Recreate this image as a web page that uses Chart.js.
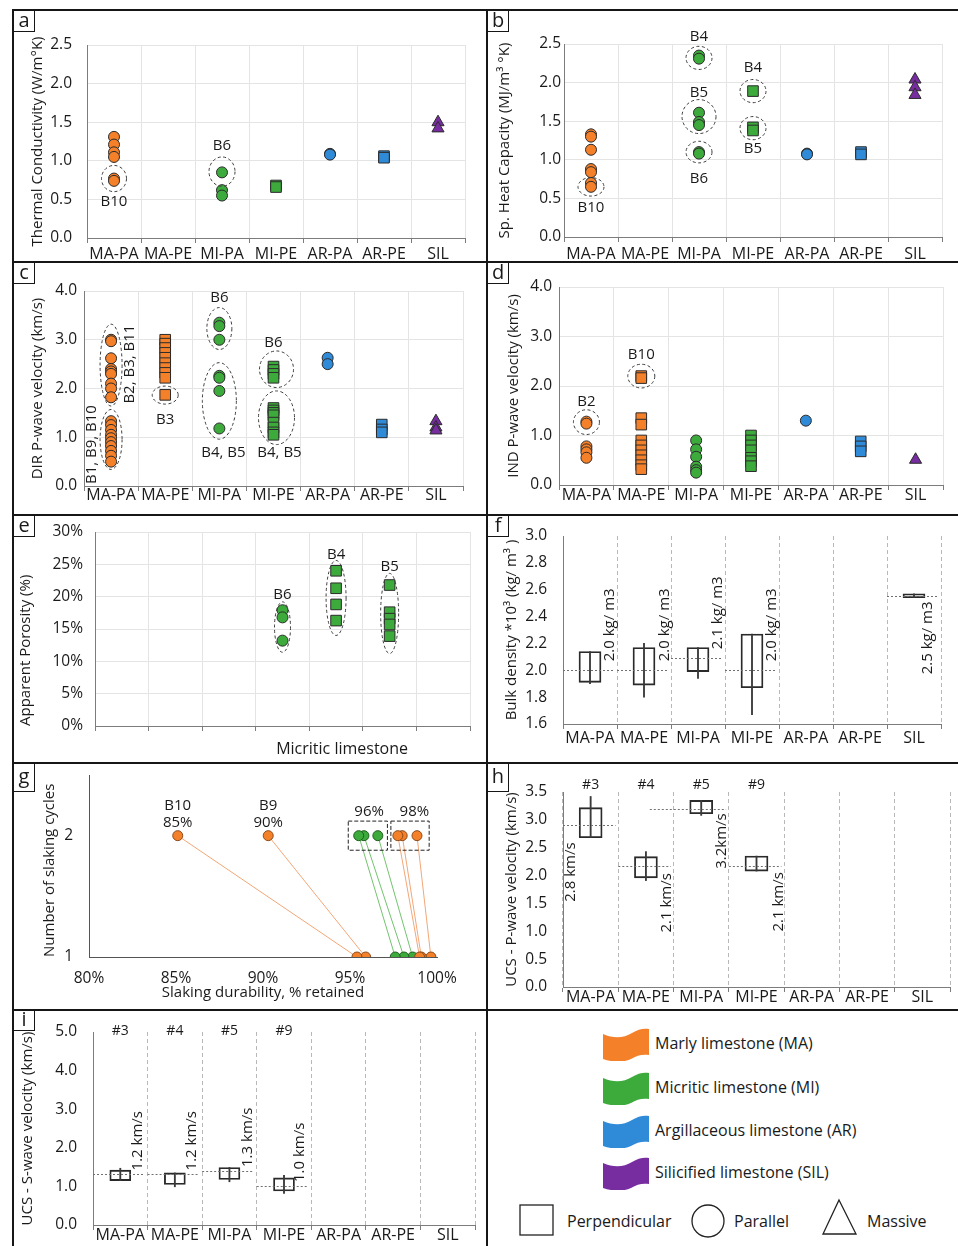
<!DOCTYPE html>
<html lang="en">
<head>
<meta charset="utf-8">
<title>Limestone properties</title>
<script src="https://cdn.jsdelivr.net/npm/chart.js@4.4.1/dist/chart.umd.min.js"></script>
<style>
  html, body { margin: 0; padding: 0; background: #fff; }
  #fig { position: relative; width: 958px; height: 1246px; overflow: hidden; background: #fff;
         font-family: 'Open Sans', sans-serif; color: #1a1a1a; }
  #fig canvas { position: absolute; }
  .rule { position: absolute; background: #161616; z-index: 5; }
  .tag { position: absolute; z-index: 6; box-sizing: border-box; width: 22px; height: 22px;
         border: 1.5px solid #161616; background: #fff; font-size: 20px; line-height: 16px; text-align: center; }
  .leg { position: absolute; font-size: 16px; line-height: 20px; white-space: nowrap; }
  .leg svg { position: absolute; }
</style>
</head>
<body>
<div id="fig"></div>
<script>
// categories + colours
const CATS = ['MA-PA', 'MA-PE', 'MI-PA', 'MI-PE', 'AR-PA', 'AR-PE', 'SIL'];
const MA = '#F5802A', MI = '#3DAA3C', AR = '#2F8AD8', SIL = '#772D9F';

// a - thermal conductivity (W/m°K)
const aMaPa = [1.31, 1.21, 1.11, 1.05, 0.77, 0.74];
const aMiPa = [0.85, 0.62, 0.55];
const aMiPe = [0.68, 0.66];
const aArPa = [1.09, 1.08];
const aArPe = [1.06, 1.04];
const aSil  = [1.50, 1.42];

// b - specific heat capacity (MJ/m3 °K)
const bMaPa = [1.33, 1.30, 1.13, 0.88, 0.84, 0.70, 0.65];
const bMiPa = [2.35, 2.31, 1.61, 1.49, 1.45, 1.10, 1.08];
const bMiPe = [1.89, 1.42, 1.38];
const bArPa = [1.08, 1.07];
const bArPe = [1.10, 1.07];
const bSil  = [2.04, 1.94, 1.84];

// c - DIR P-wave velocity (km/s)
const cMaPa = [3.00, 2.97, 2.62, 2.40, 2.35, 2.30, 2.10, 2.00, 1.82,
               1.33, 1.25, 1.15, 1.05, 0.98, 0.90, 0.82, 0.72, 0.62, 0.50];
const cMaPe = [3.00, 2.92, 2.83, 2.73, 2.63, 2.52, 2.42, 2.32, 2.22, 1.87];
const cMiPa = [3.35, 3.28, 3.00, 2.26, 2.22, 1.95, 1.18];
const cMiPe = [2.45, 2.38, 2.30, 2.22, 1.60, 1.55, 1.50, 1.45, 1.30, 1.20, 1.10, 1.05];
const cArPa = [2.63, 2.50];
const cArPe = [1.26, 1.16, 1.10];
const cSil  = [1.33, 1.20, 1.14];

// d - IND P-wave velocity (km/s)
const dMaPa = [1.28, 1.24, 0.78, 0.72, 0.66, 0.55];
const dMaPe = [2.20, 2.16, 1.35, 1.22, 0.90, 0.80, 0.70, 0.60, 0.50, 0.40, 0.32];
const dMiPa = [0.90, 0.72, 0.57, 0.37, 0.30, 0.25];
const dMiPe = [1.00, 0.90, 0.80, 0.70, 0.55, 0.48, 0.38];
const dArPa = [1.30];
const dArPe = [0.88, 0.78, 0.68];
const dSil  = [0.51];

// e - apparent porosity (%), micritic limestone blocks
const eSlots = ['e1', 'e2', 'e3', 'B6', 'B4', 'B5', 'e7'];
const eB6 = [17.9, 16.8, 13.2];
const eB4 = [24.0, 21.3, 18.8, 16.3];
const eB5 = [21.8, 17.6, 16.6, 15.7, 13.9];

// f - bulk density *10^3 (kg/m3)
const fBoxLow  = [1.91, 1.89, 1.99, 1.87, null, null, 2.54];
const fBoxHigh = [2.14, 2.17, 2.17, 2.27, null, null, 2.57];
const fMin     = [1.90, 1.80, 1.94, 1.67, null, null, 2.54];
const fMax     = [2.14, 2.20, 2.17, 2.27, null, null, 2.57];
const fMean    = [2.00, 2.00, 2.09, 2.00, null, null, 2.55];
const fMeanText = ['2.0 kg/ m3', '2.0 kg/ m3', '2.1 kg/ m3', '2.0 kg/ m3', null, null, '2.5 kg/ m3'];

// g - slaking durability (% retained) after cycle 1 and cycle 2
const gMaCycle1 = [95.4, 95.9, 99.0, 99.1, 99.65];
const gMaCycle2 = [85.1, 90.3, 97.75, 98.0, 98.85];
const gMiCycle1 = [97.6, 98.1, 98.6];
const gMiCycle2 = [95.5, 95.8, 96.6];

// h - UCS specimens, P-wave velocity (km/s)
const hSamples = ['#3', '#4', '#5', '#9'];
const hBoxLow  = [2.68, 1.96, 3.11, 2.08];
const hBoxHigh = [3.22, 2.34, 3.35, 2.35];
const hMin     = [2.68, 1.91, 3.08, 2.08];
const hMax     = [3.42, 2.43, 3.35, 2.35];
const hMean    = [2.90, 2.17, 3.19, 2.17];
const hMeanText = ['2.8 km/s', '2.1 km/s', '3.2km/s', '2.1 km/s'];

// i - UCS specimens, S-wave velocity (km/s)
const iSamples = ['#3', '#4', '#5', '#9'];
const iBoxLow  = [1.15, 1.05, 1.18, 0.88];
const iBoxHigh = [1.42, 1.35, 1.49, 1.22];
const iMin     = [1.15, 0.99, 1.12, 0.82];
const iMax     = [1.47, 1.35, 1.49, 1.29];
const iMean    = [1.31, 1.31, 1.40, 1.01];
const iMeanText = ['1.2 km/s', '1.2 km/s', '1.3 km/s', '1.0 km/s'];

// ---------------------------------------------------------------------------
const GRID = '#e4e4e4', AXIS = '#7c7c7c', DASH = '#b8b8b8', INK = '#1a1a1a';
Chart.defaults.font.family = "'Open Sans', sans-serif";
Chart.defaults.color = INK;

const fig = document.getElementById('fig');

// canvas box (x,y,w,h) and plot area (l,r,t,b) per panel, page pixels
const LAYOUT = {
  a: { x: 14,  y: 11,   w: 472, h: 250, l: 87,  r: 465, t: 45,   b: 238 },
  b: { x: 489, y: 11,   w: 469, h: 250, l: 564, r: 942, t: 44,   b: 237 },
  c: { x: 14,  y: 264,  w: 472, h: 249, l: 84,  r: 463, t: 291,  b: 486 },
  d: { x: 489, y: 264,  w: 469, h: 249, l: 559, r: 943, t: 287,  b: 485 },
  e: { x: 14,  y: 516,  w: 472, h: 245, l: 95,  r: 470, t: 532,  b: 726 },
  f: { x: 489, y: 516,  w: 469, h: 245, l: 563, r: 941, t: 536,  b: 724 },
  g: { x: 14,  y: 764,  w: 472, h: 244, l: 89,  r: 437, t: 775,  b: 957 },
  h: { x: 489, y: 764,  w: 469, h: 244, l: 563, r: 950, t: 792,  b: 987 },
  i: { x: 14,  y: 1011, w: 472, h: 235, l: 93,  r: 475, t: 1032, b: 1225 }
};

function notesPlugin(n) {
  return {
    id: 'notes',
    afterDatasetsDraw(chart) {
      const { ctx } = chart;
      const xs = chart.scales.x, ys = chart.scales.y;
      const X = c => xs.getPixelForValue(typeof c === 'string' ? xs.getLabels().indexOf(c) : c);
      ctx.save();
      ctx.lineWidth = 1;
      ctx.strokeStyle = '#3c3c3c';
      ctx.setLineDash([3, 2.5]);
      (n.ellipses || []).forEach(e => {
        const a = ys.getPixelForValue(e.y0), b = ys.getPixelForValue(e.y1);
        ctx.beginPath();
        ctx.ellipse(X(e.cat) + (e.dx || 0), (a + b) / 2, e.rx, Math.abs(a - b) / 2, 0, 0, 2 * Math.PI);
        ctx.stroke();
      });
      ctx.strokeStyle = '#222';
      ctx.setLineDash([4, 2]);
      (n.rects || []).forEach(r => {
        const x0 = xs.getPixelForValue(r.x0), x1 = xs.getPixelForValue(r.x1);
        const y0 = ys.getPixelForValue(r.y0), y1 = ys.getPixelForValue(r.y1);
        ctx.strokeRect(x0, y1, x1 - x0, y0 - y1);
      });
      ctx.strokeStyle = '#707070';
      ctx.setLineDash([2, 2]);
      (n.means || []).forEach(m => {
        const y = Math.round(ys.getPixelForValue(m.y)) + 0.5;
        ctx.beginPath();
        ctx.moveTo(X(m.cat + m.span[0]), y);
        ctx.lineTo(X(m.cat + m.span[1]), y);
        ctx.stroke();
      });
      ctx.setLineDash([]);
      ctx.fillStyle = INK;
      ctx.textBaseline = 'middle';
      (n.texts || []).forEach(t => {
        ctx.font = (t.size || 15) + "px 'Open Sans', sans-serif";
        const x = X(t.cat) + (t.dx || 0);
        const y = ys.getPixelForValue(t.y);
        ctx.save();
        if (t.rot) {
          const gap = t.gap || 0;
          ctx.translate(x, t.side === 'down' ? y + gap : t.side === 'up' ? y - gap : y);
          ctx.rotate(-Math.PI / 2);
          ctx.textAlign = t.side === 'down' ? 'right' : t.side === 'up' ? 'left' : 'center';
          ctx.fillText(t.t, 0, 0);
        } else {
          ctx.textAlign = 'center';
          ctx.fillText(t.t, x, y);
        }
        ctx.restore();
      });
      ctx.restore();
    }
  };
}

function makeChart(key, config, notes) {
  const L = LAYOUT[key];
  const cv = document.createElement('canvas');
  cv.width = L.w; cv.height = L.h;
  cv.style.left = L.x + 'px'; cv.style.top = L.y + 'px';
  fig.appendChild(cv);
  const o = config.options;
  Object.assign(o, { responsive: false, maintainAspectRatio: false, animation: false, events: [] });
  o.plugins = { legend: { display: false }, tooltip: { enabled: false } };
  o.layout = { padding: { left: 0, top: L.t - L.y, right: L.x + L.w - L.r, bottom: 0 } };
  // force the plot area to sit where it does in the figure
  o.scales.x.afterFit = s => {
    s.height = L.y + L.h - L.b;
    s.paddingLeft = s.paddingRight = s.paddingTop = s.paddingBottom = 0;
  };
  o.scales.y.afterFit = s => {
    s.width = L.l - L.x;
    s.paddingLeft = s.paddingRight = s.paddingTop = s.paddingBottom = 0;
  };
  config.plugins = [notesPlugin(notes || {})];
  return new Chart(cv, config);
}

function catX(labels, pad, dashed) {
  return {
    type: 'category', labels, offset: true,
    grid: { offset: true, color: dashed ? DASH : GRID, tickColor: AXIS, tickLength: 5 },
    border: dashed ? { color: AXIS, dash: [4, 3] } : { color: AXIS },
    ticks: { font: { size: 16 }, color: INK, padding: pad, autoSkip: false, maxRotation: 0 }
  };
}

function valY(min, max, step, title, titlePad, tickPad, fmt, gridOn) {
  return {
    type: 'linear', min, max,
    grid: { display: gridOn !== false, color: GRID, drawTicks: false },
    border: { color: AXIS },
    ticks: { stepSize: step, padding: tickPad, font: { size: 15.5 }, color: INK,
             callback: fmt || (v => v.toFixed(1)) },
    title: { display: true, text: title, font: { size: 15 }, color: INK, padding: { top: titlePad } }
  };
}

const RADIUS = { circle: 5.5, rect: 7.5, triangle: 7 };
function marks(cat, vals, color, shape) {
  return {
    data: vals.map(v => ({ x: cat, y: v })),
    pointStyle: shape,
    pointRadius: RADIUS[shape],
    backgroundColor: color,
    borderColor: '#2b2b2b',
    borderWidth: 1
  };
}

function boxSets(lo, hi, min, max, width) {
  return [
    { data: min.map((v, k) => v == null ? null : [v, max[k]]),
      backgroundColor: '#3a3a3a', borderWidth: 0, barThickness: 1.2, grouped: false },
    { data: lo.map((v, k) => v == null ? null : [v, hi[k]]),
      backgroundColor: 'rgba(255,255,255,0)', borderColor: '#2a2a2a', borderWidth: 1.2,
      borderSkipped: false, barThickness: width, grouped: false }
  ];
}

function boxNotes(mean, text, place, spans, samples, sampleY) {
  const n = { means: [], texts: [] };
  mean.forEach((m, k) => {
    if (m == null) return;
    n.means.push({ cat: k, y: m, span: spans[k] || [-0.5, 0.45] });
    const p = place[k];
    n.texts.push({ cat: k, y: m, t: text[k], rot: -90, dx: p.dx, gap: p.gap, side: p.side });
  });
  (samples || []).forEach((s, k) => n.texts.push({ cat: k, y: sampleY, t: s, size: 14 }));
  return n;
}

// ---- a
makeChart('a', {
  type: 'scatter',
  data: { datasets: [
    marks('MA-PA', aMaPa, MA, 'circle'), marks('MI-PA', aMiPa, MI, 'circle'),
    marks('MI-PE', aMiPe, MI, 'rect'), marks('AR-PA', aArPa, AR, 'circle'),
    marks('AR-PE', aArPe, AR, 'rect'), marks('SIL', aSil, SIL, 'triangle')] },
  options: { scales: {
    x: catX(CATS, 2),
    y: valY(0, 2.5, 0.5, 'Thermal Conductivity (W/m°K)', 14.5, 15) } }
}, {
  ellipses: [{ cat: 'MA-PA', y0: 0.60, y1: 0.94, rx: 12.5 }, { cat: 'MI-PA', y0: 0.67, y1: 1.05, rx: 13 }],
  texts: [{ cat: 'MA-PA', y: 0.47, t: 'B10' }, { cat: 'MI-PA', y: 1.19, t: 'B6' }]
});

// ---- b
makeChart('b', {
  type: 'scatter',
  data: { datasets: [
    marks('MA-PA', bMaPa, MA, 'circle'), marks('MI-PA', bMiPa, MI, 'circle'),
    marks('MI-PE', bMiPe, MI, 'rect'), marks('AR-PA', bArPa, AR, 'circle'),
    marks('AR-PE', bArPe, AR, 'rect'), marks('SIL', bSil, SIL, 'triangle')] },
  options: { scales: {
    x: catX(CATS, 2.4),
    y: valY(0, 2.5, 0.5, 'Sp. Heat Capacity (MJ/m³ °K)', 7, 3) } }
}, {
  ellipses: [
    { cat: 'MA-PA', y0: 0.53, y1: 0.77, rx: 13 },
    { cat: 'MI-PA', y0: 2.17, y1: 2.47, rx: 13 },
    { cat: 'MI-PA', y0: 1.34, y1: 1.78, rx: 17 },
    { cat: 'MI-PA', y0: 0.96, y1: 1.24, rx: 13 },
    { cat: 'MI-PE', y0: 1.74, y1: 2.04, rx: 13 },
    { cat: 'MI-PE', y0: 1.26, y1: 1.56, rx: 13 }],
  texts: [
    { cat: 'MA-PA', y: 0.38, t: 'B10' }, { cat: 'MI-PA', y: 2.60, t: 'B4' },
    { cat: 'MI-PA', y: 1.87, t: 'B5' }, { cat: 'MI-PA', y: 0.75, t: 'B6' },
    { cat: 'MI-PE', y: 2.19, t: 'B4' }, { cat: 'MI-PE', y: 1.14, t: 'B5' }]
});

// ---- c
makeChart('c', {
  type: 'scatter',
  data: { datasets: [
    marks('MA-PA', cMaPa, MA, 'circle'), marks('MA-PE', cMaPe, MA, 'rect'),
    marks('MI-PA', cMiPa, MI, 'circle'), marks('MI-PE', cMiPe, MI, 'rect'),
    marks('AR-PA', cArPa, AR, 'circle'), marks('AR-PE', cArPe, AR, 'rect'),
    marks('SIL', cSil, SIL, 'triangle')] },
  options: { scales: {
    x: catX(CATS, -5),
    y: valY(0, 4, 1, 'DIR P-wave velocity (km/s)', 15, 7) } }
}, {
  ellipses: [
    { cat: 'MA-PA', y0: 1.64, y1: 3.32, rx: 11 },
    { cat: 'MA-PA', y0: 0.34, y1: 1.57, rx: 11 },
    { cat: 'MA-PE', y0: 1.68, y1: 2.05, rx: 13 },
    { cat: 'MI-PA', y0: 2.80, y1: 3.66, rx: 12.5 },
    { cat: 'MI-PA', y0: 0.96, y1: 2.53, rx: 17 },
    { cat: 'MI-PE', y0: 2.02, y1: 2.77, rx: 17, dx: 3 },
    { cat: 'MI-PE', y0: 0.85, y1: 1.95, rx: 18, dx: 3 }],
  texts: [
    { cat: 'MA-PA', y: 2.5, t: 'B2, B3, B11', rot: -90, dx: 19 },
    { cat: 'MA-PA', y: 0.85, t: 'B1, B9, B10', rot: -90, dx: -19 },
    { cat: 'MA-PE', y: 1.35, t: 'B3' },
    { cat: 'MI-PA', y: 3.86, t: 'B6' },
    { cat: 'MI-PA', y: 0.68, t: 'B4, B5', dx: 4 },
    { cat: 'MI-PE', y: 2.94, t: 'B6' },
    { cat: 'MI-PE', y: 0.68, t: 'B4, B5', dx: 6 }]
});

// ---- d
makeChart('d', {
  type: 'scatter',
  data: { datasets: [
    marks('MA-PA', dMaPa, MA, 'circle'), marks('MA-PE', dMaPe, MA, 'rect'),
    marks('MI-PA', dMiPa, MI, 'circle'), marks('MI-PE', dMiPe, MI, 'rect'),
    marks('AR-PA', dArPa, AR, 'circle'), marks('AR-PE', dArPe, AR, 'rect'),
    marks('SIL', dSil, SIL, 'triangle')] },
  options: { scales: {
    x: catX(CATS, -4.6),
    y: valY(0, 4, 1, 'IND P-wave velocity (km/s)', 16, 7) } }
}, {
  ellipses: [{ cat: 'MA-PA', y0: 1.02, y1: 1.52, rx: 13 }, { cat: 'MA-PE', y0: 1.96, y1: 2.44, rx: 13.5 }],
  texts: [{ cat: 'MA-PA', y: 1.69, t: 'B2' }, { cat: 'MA-PE', y: 2.64, t: 'B10' }]
});

// ---- e
const eX = catX(eSlots, 0);
eX.ticks.display = false;
const eY = valY(0, 30, 5, 'Apparent Porosity (%)', 3, 12, v => v + '%');
eY.title.align = 'start';
makeChart('e', {
  type: 'scatter',
  data: { datasets: [
    marks('B6', eB6, MI, 'circle'), marks('B4', eB4, MI, 'rect'), marks('B5', eB5, MI, 'rect')] },
  options: { scales: { x: eX, y: eY } }
}, {
  ellipses: [
    { cat: 'B6', y0: 11.4, y1: 19.2, rx: 8 },
    { cat: 'B4', y0: 14.0, y1: 25.6, rx: 10 },
    { cat: 'B5', y0: 11.2, y1: 23.6, rx: 9 }],
  texts: [
    { cat: 'B6', y: 20.3, t: 'B6' }, { cat: 'B4', y: 26.5, t: 'B4' }, { cat: 'B5', y: 24.7, t: 'B5' },
    { cat: 'B4', y: -3.7, t: 'Micritic limestone', size: 16, dx: 6 }]
});

// ---- f
const up = (dx, gap) => ({ side: 'up', dx, gap });
const down = (dx, gap) => ({ side: 'down', dx, gap });
makeChart('f', {
  type: 'bar',
  data: { labels: CATS, datasets: boxSets(fBoxLow, fBoxHigh, fMin, fMax, 22) },
  options: { scales: {
    x: catX(CATS, -0.6, true),
    y: valY(1.6, 3.0, 0.2, 'Bulk density *10³ (kg/ m³ )', 14, 16, null, false) } }
}, boxNotes(fMean, fMeanText,
  [up(20, 9), up(21, 9), up(20, 9), up(20, 9), null, null, down(14, 5)], [], null));

// ---- g
const gSets = [];
gMaCycle1.forEach((v, k) => gSets.push({
  data: [{ x: gMaCycle2[k], y: 2 }, { x: v, y: 1 }], showLine: true,
  borderColor: 'rgba(240,150,95,0.85)', borderWidth: 1, pointRadius: 5,
  pointBackgroundColor: MA, pointBorderColor: '#8a4a1a', pointBorderWidth: 1 }));
gMiCycle1.forEach((v, k) => gSets.push({
  data: [{ x: gMiCycle2[k], y: 2 }, { x: v, y: 1 }], showLine: true,
  borderColor: 'rgba(90,185,85,0.85)', borderWidth: 1, pointRadius: 5,
  pointBackgroundColor: MI, pointBorderColor: '#1f5e1e', pointBorderWidth: 1 }));
makeChart('g', {
  type: 'scatter',
  data: { datasets: gSets },
  options: { scales: {
    x: { type: 'linear', min: 80, max: 100,
         grid: { display: false, drawTicks: false }, border: { color: '#555' },
         ticks: { stepSize: 5, padding: 12, font: { size: 15.5 }, color: INK, callback: v => v + '%' },
         title: { display: true, text: 'Slaking durability, % retained', font: { size: 15 }, color: INK,
                  padding: { bottom: 6 } } },
    y: { type: 'linear', min: 1, max: 2.5,
         grid: { display: false, drawTicks: false }, border: { color: '#555' },
         ticks: { stepSize: 1, includeBounds: false, padding: 16, font: { size: 15.5 }, color: INK },
         title: { display: true, text: 'Number of slaking cycles', align: 'start', font: { size: 15 },
                  color: INK, padding: { top: 27 } } } } }
}, {
  texts: [
    { cat: 85.1, y: 2.25, t: 'B10' }, { cat: 85.1, y: 2.11, t: '85%' },
    { cat: 90.3, y: 2.25, t: 'B9' }, { cat: 90.3, y: 2.11, t: '90%' },
    { cat: 96.1, y: 2.2, t: '96%' }, { cat: 98.7, y: 2.2, t: '98%' }],
  rects: [{ x0: 94.9, x1: 97.15, y0: 1.88, y1: 2.12 }, { x0: 97.35, x1: 99.55, y0: 1.88, y1: 2.12 }]
});

// ---- h
makeChart('h', {
  type: 'bar',
  data: { labels: CATS, datasets: boxSets(hBoxLow, hBoxHigh, hMin, hMax, 23) },
  options: { scales: {
    x: catX(CATS, -4.6, true),
    y: valY(0, 3.5, 0.5, 'UCS - P-wave velocity (km/s)', 14, 16, null, false) } }
}, boxNotes(hMean, hMeanText,
  [down(-20, 17), down(21, 7), down(21, 4), down(22, 6)],
  [null, null, [-0.93, 0.45]], hSamples, 3.63));

// ---- i
makeChart('i', {
  type: 'bar',
  data: { labels: CATS, datasets: boxSets(iBoxLow, iBoxHigh, iMin, iMax, 21) },
  options: { scales: {
    x: catX(CATS, -4.6, true),
    y: valY(0, 5, 1, 'UCS - S-wave velocity (km/s)', 5, 16, null, false) } }
}, boxNotes(iMean, iMeanText,
  [up(17, 4), up(17, 4), up(18, 4), up(16, 4)], [], iSamples, 5.03));

// ---- frame, panel tags, legend
[[12, 9, 946, 2], [12, 9, 2, 1237], [486, 9, 2, 1237],
 [12, 261, 946, 2], [12, 514, 946, 2], [12, 762, 946, 2], [12, 1009, 946, 2]].forEach(([x, y, w, h]) => {
  const d = document.createElement('div');
  d.className = 'rule';
  Object.assign(d.style, { left: x + 'px', top: y + 'px', width: w + 'px', height: h + 'px' });
  fig.appendChild(d);
});
[['a', 13, 10, 22], ['b', 487, 10, 22], ['c', 13, 262, 22], ['d', 487, 262, 22], ['e', 13, 515, 22],
 ['f', 487, 515, 22], ['g', 13, 763, 29], ['h', 487, 763, 29], ['i', 13, 1010, 21]].forEach(([t, x, y, h]) => {
  const d = document.createElement('div');
  d.className = 'tag';
  d.textContent = t;
  Object.assign(d.style, { left: x + 'px', top: y + 'px', height: h + 'px', lineHeight: (h - 5) + 'px' });
  fig.appendChild(d);
});

const legendRocks = [
  ['Marly limestone (MA)', MA], ['Micritic limestone (MI)', MI],
  ['Argillaceous limestone (AR)', AR], ['Silicified limestone (SIL)', SIL]];
const flagTops = [1028, 1072, 1115, 1157];
legendRocks.forEach(([name, col], k) => {
  const d = document.createElement('div');
  d.className = 'leg';
  Object.assign(d.style, { left: '602px', top: flagTops[k] + 'px', width: '300px', height: '32px' });
  d.innerHTML = '<svg width="48" height="33" style="left:0;top:0"><path d="M1,6 C12,11 22,10 30,5 C36,1 42,0 47,1 L47,27 C41,26 35,27 29,31 C20,35 10,34 1,31 Z" fill="' +
    col + '"/></svg><span style="position:absolute;left:53px;top:5px">' + name + '</span>';
  fig.appendChild(d);
});
const shapes = document.createElement('div');
shapes.className = 'leg';
Object.assign(shapes.style, { left: '0px', top: '0px' });
shapes.innerHTML =
  '<svg width="40" height="36" style="left:518px;top:1203px"><rect x="2" y="2" width="33" height="30" fill="none" stroke="#222" stroke-width="1.3"/></svg>' +
  '<span style="position:absolute;left:567px;top:1211px">Perpendicular</span>' +
  '<svg width="40" height="36" style="left:690px;top:1203px"><circle cx="18" cy="18" r="16" fill="none" stroke="#222" stroke-width="1.3"/></svg>' +
  '<span style="position:absolute;left:734px;top:1211px">Parallel</span>' +
  '<svg width="40" height="40" style="left:821px;top:1198px"><path d="M18,2 L35,36 L2,36 Z" fill="none" stroke="#222" stroke-width="1.3"/></svg>' +
  '<span style="position:absolute;left:867px;top:1211px">Massive</span>';
fig.appendChild(shapes);
</script>
</body>
</html>
